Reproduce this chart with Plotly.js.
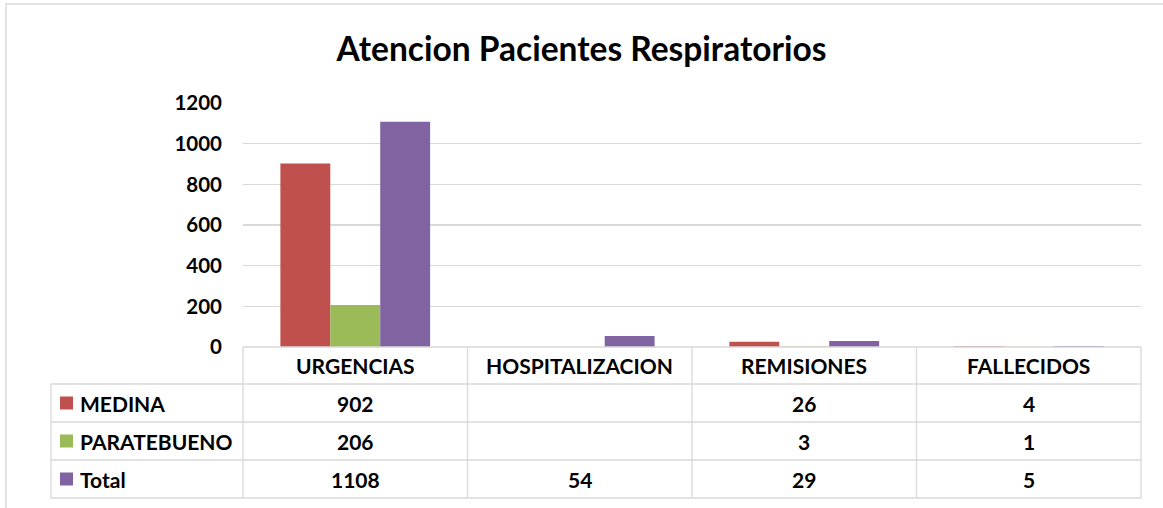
<!DOCTYPE html>
<html>
<head>
<meta charset="utf-8">
<script src="https://cdn.plot.ly/plotly-3.0.1.min.js"></script>
<style>html,body{margin:0;padding:0;background:#fff;}#chart{width:1163px;height:508px;}</style>
</head>
<body>
<div id="chart"></div>
<script>
// ---- data ----
const categories = ["URGENCIAS", "HOSPITALIZACION", "REMISIONES", "FALLECIDOS"];
const seriesNames = ["MEDINA", "PARATEBUENO", "Total"];
const medina = [902, null, 26, 4];
const paratebueno = [206, null, 3, 1];
const total = [1108, 54, 29, 5];
const yTicks = [0, 200, 400, 600, 800, 1000, 1200];
const colors = ["#c0504d", "#9bbb59", "#8064a2"];
const chartTitle = "Atencion Pacientes Respiratorios";

const seriesValues = [medina, paratebueno, total];

// ---- geometry helpers (layout pixels -> paper) ----
const W = 1163, H = 508;
const L = 243, R = 22, T = 103, B = 161;
const PW = W - L - R, PH = H - T - B;
const px = x => (x - L) / PW;
const py = y => 1 - (y - T) / PH;

const FONT = "Lato, 'Open Sans', sans-serif";
const lineColor = "#d9d9d9";

const traces = seriesNames.map((name, i) => ({
  type: "bar",
  name: name,
  x: categories,
  y: seriesValues[i],
  marker: {color: colors[i]},
  hoverinfo: "x+y+name",
  showlegend: false
}));

// ---- data table (lines + texts) ----
const shapes = [];
const annotations = [];
const colEdges = [];
for (let i = 0; i <= categories.length; i++) colEdges.push(L + i * PW / categories.length);
const tableTop = H - B;          // 347
const rowH = 38;
const legendLeft = 51;
const rows = [tableTop, tableTop + 37, tableTop + 37 + rowH, tableTop + 37 + 2 * rowH, tableTop + 37 + 3 * rowH];

function hline(y, x0, x1) {
  shapes.push({type: "line", xref: "paper", yref: "paper", x0: px(x0), x1: px(x1), y0: py(y), y1: py(y),
    line: {color: lineColor, width: 1.3}, layer: "above"});
}
function vline(x, y0, y1) {
  shapes.push({type: "line", xref: "paper", yref: "paper", x0: px(x), x1: px(x), y0: py(y0), y1: py(y1),
    line: {color: lineColor, width: 1.3}, layer: "above"});
}
hline(rows[0], colEdges[0], colEdges[colEdges.length - 1]);
for (let r = 1; r < rows.length; r++) hline(rows[r], legendLeft, colEdges[colEdges.length - 1]);
vline(legendLeft, rows[1], rows[rows.length - 1]);
colEdges.forEach(x => vline(x, rows[0], rows[rows.length - 1]));

const cellFont = {family: FONT, size: 21, color: "#000", weight: 700};
categories.forEach((c, j) => {
  const cx = (colEdges[j] + colEdges[j + 1]) / 2;
  annotations.push({xref: "paper", yref: "paper", x: px(cx), y: py((rows[0] + rows[1]) / 2),
    text: c, showarrow: false, xanchor: "center", yanchor: "middle", font: cellFont});
  seriesValues.forEach((vals, i) => {
    const v = vals[j];
    if (v === null || v === undefined) return;
    annotations.push({xref: "paper", yref: "paper", x: px(cx), y: py((rows[i + 1] + rows[i + 2]) / 2),
      text: String(v), showarrow: false, xanchor: "center", yanchor: "middle", font: cellFont});
  });
});
seriesNames.forEach((name, i) => {
  const cy = (rows[i + 1] + rows[i + 2]) / 2;
  shapes.push({type: "rect", xref: "paper", yref: "paper", x0: px(60), x1: px(73), y0: py(cy - 6.5), y1: py(cy + 6.5),
    fillcolor: colors[i], line: {width: 0}, layer: "above"});
  annotations.push({xref: "paper", yref: "paper", x: px(78), y: py(cy),
    text: name, showarrow: false, xanchor: "left", yanchor: "middle", font: cellFont});
});

// chart border
shapes.push({type: "rect", xref: "paper", yref: "paper", x0: px(6), x1: px(1175), y0: py(4), y1: py(520),
  line: {color: lineColor, width: 1.5}, fillcolor: "rgba(0,0,0,0)", layer: "below"});

const layout = {
  width: W, height: H,
  margin: {l: L, r: R, t: T, b: B, pad: 0},
  paper_bgcolor: "#fff", plot_bgcolor: "#fff",
  title: {text: chartTitle, font: {family: FONT, size: 33.5, color: "#000", weight: 700},
    x: 0.5, xref: "container", xanchor: "center", y: 1 - 49 / H, yref: "container", yanchor: "middle"},
  barmode: "group", bargap: 0.333, bargroupgap: 0,
  xaxis: {showticklabels: false, showgrid: false, zeroline: false, showline: false, ticks: "", fixedrange: true},
  yaxis: {range: [0, 1200], tickvals: yTicks, ticktext: yTicks.map(String), showgrid: true, gridcolor: lineColor, gridwidth: 1.3,
    zeroline: false, showline: false, ticks: "", ticklabelstandoff: 20,
    tickfont: {family: FONT, size: 20.5, color: "#000", weight: 700}, fixedrange: true},
  shapes: shapes,
  annotations: annotations,
  showlegend: false
};

Plotly.newPlot("chart", traces, layout, {displayModeBar: false, staticPlot: true});
</script>
</body>
</html>
